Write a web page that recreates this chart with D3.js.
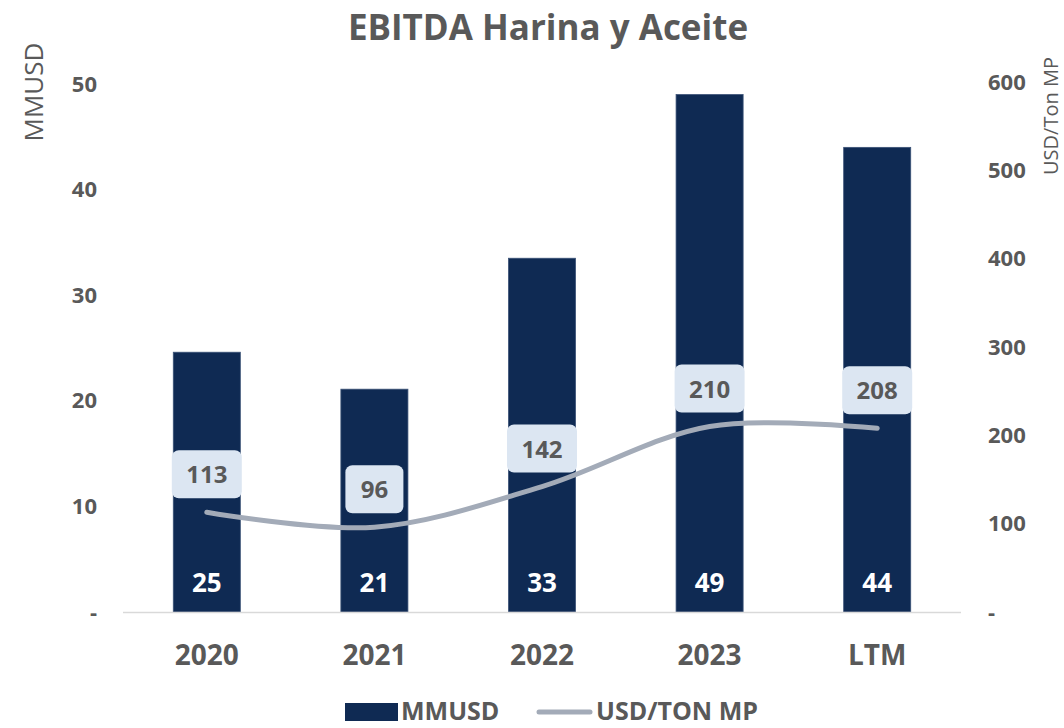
<!DOCTYPE html>
<html>
<head>
<meta charset="utf-8">
<script src="https://cdn.jsdelivr.net/npm/d3@7"></script>
<style>
  body { margin: 0; background: #fff; }
  svg text { font-family: "Open Sans", sans-serif; }
</style>
</head>
<body>
<div id="chart"></div>
<script>
var categories = ["2020", "2021", "2022", "2023", "LTM"],
	ebitda = [24.6, 21.1, 33.5, 49.0, 44.0],
	ebitdaLabels = ["25", "21", "33", "49", "44"],
	usdTon = [113, 96, 142, 210, 208],
	leftTicks = [0, 10, 20, 30, 40, 50],
	rightTicks = [0, 100, 200, 300, 400, 500, 600];

var width = 1064,
	height = 728,
	margin = {top: 84, right: 103, bottom: 116, left: 123},
	grey = "#595959",
	navy = "#0F2A53",
	lineGrey = "#A3ABB8",
	boxFill = "#DCE6F2";

var svg = d3.select("#chart")
	.append("svg")
	.attr("width", width)
	.attr("height", height);

var x = d3.scaleBand()
		.domain(categories)
		.range([margin.left, width - margin.right])
		.paddingInner(0.6)
		.paddingOuter(0.3),
	y = d3.scaleLinear()
		.domain([0, 50])
		.range([height - margin.bottom, margin.top]),
	y2 = d3.scaleLinear()
		.domain([0, 600])
		.range([height - margin.bottom, margin.top - 2]);

// title
svg.append("text")
	.attr("x", 548)
	.attr("y", 40)
	.attr("text-anchor", "middle")
	.attr("fill", grey)
	.style("font-size", "35px")
	.style("font-weight", "bold")
	.text("EBITDA Harina y Aceite");

// axes
var leftAxis = d3.axisLeft(y)
	.tickValues(leftTicks)
	.tickSize(0)
	.tickPadding(26)
	.tickFormat(function(d){ return d === 0 ? "-" : d; });

var rightAxis = d3.axisRight(y2)
	.tickValues(rightTicks)
	.tickSize(0)
	.tickPadding(27)
	.tickFormat(function(d){ return d === 0 ? "-" : d; });

var gl = svg.append("g")
	.attr("transform", "translate(" + margin.left + ",0)")
	.call(leftAxis);
var gr = svg.append("g")
	.attr("transform", "translate(" + (width - margin.right) + ",0)")
	.call(rightAxis);

[gl, gr].forEach(function(g){
	g.select(".domain").remove();
	g.selectAll("text")
		.attr("fill", grey)
		.style("font-size", "22px")
		.style("font-weight", "bold")
		.style("font-family", "'Open Sans', sans-serif");
});

// axis titles
svg.append("text")
	.attr("transform", "translate(43,92) rotate(-90)")
	.attr("text-anchor", "middle")
	.attr("fill", grey)
	.style("font-size", "26px")
	.text("MMUSD");

svg.append("text")
	.attr("transform", "translate(1058,175) rotate(-90)")
	.attr("text-anchor", "start")
	.attr("fill", grey)
	.style("font-size", "20px")
	.text("USD/Ton MP");

// bars
svg.append("g")
	.selectAll("rect")
	.data(ebitda)
	.enter()
	.append("rect")
	.attr("x", function(d, i){ return x(categories[i]); })
	.attr("y", function(d){ return y(d); })
	.attr("width", x.bandwidth())
	.attr("height", function(d){ return y(0) - y(d); })
	.attr("fill", navy)
	.attr("stroke", "#3B5277")
	.attr("stroke-width", 0.8);

// baseline
svg.append("line")
	.attr("x1", margin.left)
	.attr("x2", width - margin.right)
	.attr("y1", y(0) + 0.5)
	.attr("y2", y(0) + 0.5)
	.attr("stroke", "#D9D9D9")
	.attr("stroke-width", 1.5);

// bar labels
svg.append("g")
	.selectAll("text")
	.data(ebitdaLabels)
	.enter()
	.append("text")
	.attr("x", function(d, i){ return x(categories[i]) + x.bandwidth()/2; })
	.attr("y", y(0) - 20)
	.attr("text-anchor", "middle")
	.attr("fill", "#fff")
	.style("font-size", "26px")
	.style("font-weight", "bold")
	.text(function(d){ return d; });

// line
var line = d3.line()
	.x(function(d, i){ return x(categories[i]) + x.bandwidth()/2; })
	.y(function(d){ return y2(d); })
	.curve(d3.curveCatmullRom.alpha(0.5));

svg.append("path")
	.datum(usdTon)
	.attr("d", line)
	.attr("fill", "none")
	.attr("stroke", lineGrey)
	.attr("stroke-width", 5)
	.attr("stroke-linecap", "round");

// line labels
var lbl = svg.append("g")
	.selectAll("g")
	.data(usdTon)
	.enter()
	.append("g")
	.attr("transform", function(d, i){
		return "translate(" + (x(categories[i]) + x.bandwidth()/2) + "," + (y2(d) - 38) + ")";
	});

lbl.append("rect")
	.attr("x", function(d){ return String(d).length > 2 ? -35 : -29; })
	.attr("y", -24)
	.attr("width", function(d){ return String(d).length > 2 ? 70 : 58; })
	.attr("height", 48)
	.attr("rx", 7)
	.attr("fill", boxFill);

lbl.append("text")
	.attr("y", 9)
	.attr("text-anchor", "middle")
	.attr("fill", grey)
	.style("font-size", "24px")
	.style("font-weight", "bold")
	.text(function(d){ return d; });

// x labels
svg.append("g")
	.selectAll("text")
	.data(categories)
	.enter()
	.append("text")
	.attr("x", function(d){ return x(d) + x.bandwidth()/2; })
	.attr("y", 665)
	.attr("text-anchor", "middle")
	.attr("fill", grey)
	.style("font-size", "28px")
	.style("font-weight", "bold")
	.text(function(d){ return d; });

// legend
var legend = svg.append("g");
legend.append("rect")
	.attr("x", 345)
	.attr("y", 703)
	.attr("width", 53)
	.attr("height", 18)
	.attr("fill", navy);
legend.append("text")
	.attr("x", 401)
	.attr("y", 720)
	.attr("fill", grey)
	.style("font-size", "25px")
	.style("font-weight", "bold")
	.text("MMUSD");
legend.append("line")
	.attr("x1", 539)
	.attr("x2", 590)
	.attr("y1", 712)
	.attr("y2", 712)
	.attr("stroke", lineGrey)
	.attr("stroke-width", 5)
	.attr("stroke-linecap", "round");
legend.append("text")
	.attr("x", 596)
	.attr("y", 720)
	.attr("fill", grey)
	.style("font-size", "25px")
	.style("font-weight", "bold")
	.text("USD/TON MP");
</script>
</body>
</html>
